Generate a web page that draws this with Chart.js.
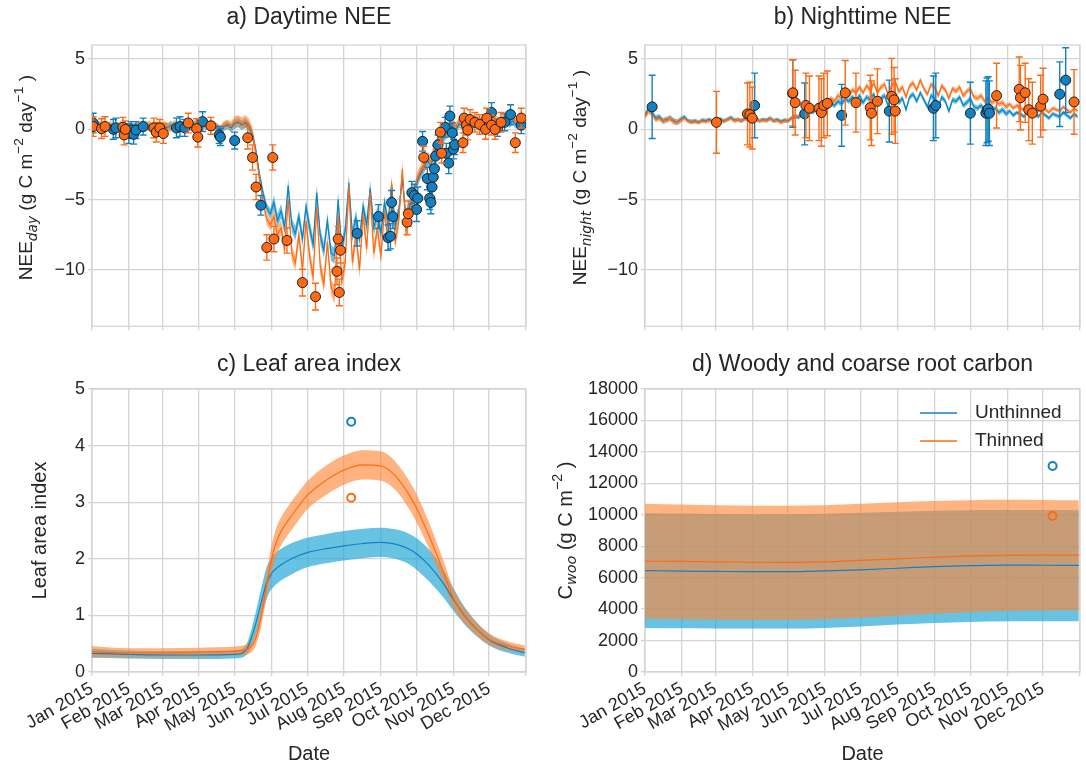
<!DOCTYPE html>
<html>
<head>
<meta charset="utf-8">
<script src="https://cdn.jsdelivr.net/npm/chart.js@4.4.1/dist/chart.umd.min.js"></script>
<style>
  body { margin: 0; background: #fff; width: 1086px; height: 767px; position: relative; overflow: hidden; }
  .panel { position: absolute; }
</style>
</head>
<body>
<div class="panel" style="left:0;top:0;width:543px;height:340px"><canvas id="chartA"></canvas></div>
<div class="panel" style="left:543px;top:0;width:543px;height:340px"><canvas id="chartB"></canvas></div>
<div class="panel" style="left:0;top:340px;width:543px;height:427px"><canvas id="chartC"></canvas></div>
<div class="panel" style="left:543px;top:340px;width:543px;height:427px"><canvas id="chartD"></canvas></div>
<script>
// x axis: day of year 2015, ticks at month starts
const monthDays = [0, 31, 59, 90, 120, 151, 181, 212, 243, 273, 304, 334, 365];
const monthLabels = ['Jan 2015', 'Feb 2015', 'Mar 2015', 'Apr 2015', 'May 2015', 'Jun 2015',
  'Jul 2015', 'Aug 2015', 'Sep 2015', 'Oct 2015', 'Nov 2015', 'Dec 2015'];

// model output, every third day
const modelDays = Array.from({ length: 122 }, (_, i) => i * 3);

// a) daytime NEE (g C m-2 day-1)
const neeDayUnth = [
  0.4, 0.2, 0.3, 0.1, 0.25, 0.15, 0.1, 0.2, 0.05, 0.15,
  0.1, 0.0, 0.15, 0.2, 0.1, 0.3, 0.15, 0.2, 0.05, 0.25,
  0.2, 0.1, 0.3, 0.15, 0.25, 0.2, 0.35, 0.3, 0.15, 0.4,
  0.3, 0.45, 0.25, 0.35, 0.2, 0.1, -0.1, 0.2, 0.3, 0.1,
  0.4, 0.5, 0.3, 0.45, 0.2, -0.4, -1.6, -3.3, -4.6, -5.6,
  -6.0, -5.2, -6.5, -5.8, -7.0, -4.0, -6.8, -7.4, -6.2, -7.8,
  -5.5, -7.0, -8.2, -4.5, -7.6, -8.6, -6.5, -8.8, -9.0, -5.0,
  -8.5, -7.2, -3.8, -7.5, -6.3, -7.8, -5.5, -6.8, -4.2, -7.0,
  -6.0, -7.4, -5.2, -6.6, -4.0, -6.9, -5.8, -3.5, -6.2, -5.5,
  -4.8, -3.8, -3.2, -2.8, -2.2, -2.6, -1.6, -1.2, -0.8, -0.4,
  -0.1, 0.2, 0.0, 0.4, 0.3, 0.5, 0.2, 0.4, 0.6, 0.3,
  0.5, 0.7, 0.4, 0.6, 0.3, 0.5, 0.8, 0.4, 0.6, 0.3,
  0.7, 0.5];
const neeDayThin = [
  0.3, 0.4, 0.2, 0.3, 0.1, 0.3, 0.2, 0.1, 0.3, 0.0,
  0.2, 0.15, 0.05, 0.3, 0.2, 0.1, 0.35, 0.1, 0.25, 0.15,
  0.3, 0.2, 0.1, 0.35, 0.2, 0.3, 0.15, 0.4, 0.25, 0.3,
  0.5, 0.3, 0.4, 0.2, 0.35, 0.15, 0.0, 0.3, 0.4, 0.25,
  0.55, 0.6, 0.45, 0.6, 0.35, -0.3, -1.8, -3.6, -5.2, -6.4,
  -6.8, -6.2, -7.5, -7.0, -8.5, -5.0, -8.8, -9.5, -7.5, -10.0,
  -6.5, -9.0, -10.5, -5.5, -9.8, -11.0, -8.0, -11.2, -11.8, -6.0,
  -10.8, -9.5, -4.0, -9.5, -7.5, -10.0, -6.0, -8.5, -4.5, -8.8,
  -7.0, -9.0, -5.8, -8.0, -3.8, -8.0, -6.5, -2.8, -7.2, -6.0,
  -5.2, -3.6, -3.0, -2.5, -2.0, -2.3, -1.3, -0.9, -0.5, -0.2,
  0.1, 0.4, 0.2, 0.6, 0.4, 0.7, 0.4, 0.6, 0.8, 0.5,
  0.7, 0.9, 0.6, 0.8, 0.5, 0.7, 1.0, 0.6, 0.8, 0.5,
  0.9, 0.7];
// half width of the model spread, per month
const neeDayUnthSd = [0.3, 0.3, 0.3, 0.3, 0.35, 0.5, 0.55, 0.55, 0.5, 0.4, 0.3, 0.3];
const neeDayThinSd = [0.3, 0.3, 0.3, 0.3, 0.4, 0.55, 0.6, 0.6, 0.55, 0.45, 0.3, 0.3];

// a) observations
const obsDayUnthDays = [1, 18, 20, 31, 33, 35, 37, 43, 71, 74, 78, 93, 107, 108, 120, 142,
  223, 241, 249, 251, 252, 253, 269, 271, 273, 274, 278, 282, 284, 285, 286, 287, 288, 289, 291,
  297, 298, 300, 301, 303, 304, 305, 336, 341, 347, 352, 361];
const obsDayUnthVals = [0.45, 0.0, 0.1, -0.3, -0.05, -0.35, -0.05, 0.2, 0.1, 0.2, 0.1, 0.55, -0.4, -0.55, -0.8, -5.4,
  -7.4, -6.2, -7.7, -7.6, -5.2, -6.2, -4.5, -4.7, -5.7, -4.9, -0.85, -3.5, -4.9, -5.2, -4.1, -3.4, -2.8, -1.9, -1.1,
  0.15, -1.7, -2.4, 0.95, -0.25, -1.4, -1.1, 1.2, 0.1, 0.5, 1.05, 0.3];
const obsDayUnthErr = [0.7, 0.7, 0.7, 0.7, 0.6, 0.7, 0.6, 0.6, 0.7, 0.7, 0.6, 0.7, 0.6, 0.6, 0.6, 0.7,
  0.9, 0.85, 0.9, 0.9, 0.85, 0.85, 0.8, 0.8, 0.85, 0.8, 0.7, 0.8, 0.8, 0.8, 0.8, 0.8, 0.75, 0.75, 0.7,
  0.7, 0.7, 0.75, 0.7, 0.7, 0.7, 0.7, 0.7, 0.6, 0.6, 0.7, 0.6];
const obsDayThinDays = [1, 8, 11, 26, 27, 28, 52, 54, 57, 60, 81, 88, 89, 100, 131, 135, 138, 147,
  152, 153, 164, 177, 188, 206, 207, 208, 209, 265, 266, 279, 293, 294, 312, 313, 315, 316, 318,
  322, 326, 331, 332, 336, 339, 344, 356, 361];
const obsDayThinVals = [0.2, 0.05, 0.2, 0.15, -0.4, 0.0, 0.1, -0.2, 0.1, -0.3, 0.45, 0.05, -0.55, 0.25, -0.6, -2.0, -4.1, -8.4,
  -2.0, -7.8, -7.9, -10.9, -11.9, -10.1, -7.8, -11.6, -8.6, -6.6, -6.0, -2.0, -0.2, -1.7, -0.95, 0.8, 0.3, -0.05, 0.7,
  0.5, 0.35, 0.0, 0.8, 0.3, 0.0, 0.5, -0.95, 0.8];
const obsDayThinErr = [0.7, 0.7, 0.7, 0.7, 0.7, 0.6, 0.7, 0.7, 0.6, 0.7, 0.7, 0.7, 0.7, 0.6, 0.8, 0.9, 0.9, 0.9,
  0.9, 0.9, 0.9, 0.95, 0.95, 0.95, 0.9, 0.95, 0.9, 0.9, 0.9, 0.8, 0.7, 0.7, 0.7, 0.7, 0.7, 0.7, 0.7,
  0.7, 0.7, 0.7, 0.7, 0.7, 0.7, 0.7, 0.7, 0.7];

// b) nighttime NEE
const neeNightUnth = [
  1.0, 1.5, 1.2, 0.8, 0.9, 0.6, 0.7, 0.8, 0.6, 0.5,
  0.7, 0.9, 0.6, 0.55, 0.6, 0.5, 0.65, 0.6, 0.7, 0.55,
  0.6, 0.75, 0.6, 0.7, 0.85, 0.65, 0.7, 0.6, 0.8, 0.7,
  0.65, 0.75, 0.6, 0.7, 0.65, 0.8, 0.6, 0.7, 0.55, 0.65,
  0.6, 0.8, 0.9, 0.85, 1.1, 1.0, 1.3, 1.2, 1.5, 1.4,
  1.7, 1.5, 1.9, 1.7, 2.0, 1.8, 2.2, 2.0, 2.3, 2.0,
  2.4, 1.9, 2.3, 2.1, 2.5, 1.8, 2.2, 2.4, 1.7, 2.3,
  2.6, 1.9, 2.2, 1.4, 2.3, 2.5, 2.0, 2.6, 2.1, 1.6,
  2.4, 2.2, 1.5, 2.3, 2.0, 1.3, 2.1, 2.0, 2.3, 1.7,
  1.9, 2.2, 1.6, 1.5, 1.7, 1.4, 1.6, 1.3, 1.5, 1.2,
  1.4, 1.1, 1.3, 1.0, 1.2, 1.1, 0.9, 1.2, 1.0, 1.1,
  0.9, 1.2, 1.0, 0.8, 1.1, 1.0, 0.9, 1.2, 1.0, 0.8,
  1.1, 0.9];
const neeNightThin = [
  0.9, 1.3, 1.1, 0.7, 0.8, 0.6, 0.65, 0.8, 0.55, 0.5,
  0.65, 0.8, 0.6, 0.5, 0.55, 0.5, 0.6, 0.55, 0.65, 0.5,
  0.6, 0.7, 0.55, 0.7, 0.8, 0.6, 0.7, 0.6, 0.75, 0.7,
  0.6, 0.7, 0.6, 0.65, 0.6, 0.75, 0.6, 0.65, 0.5, 0.6,
  0.6, 0.8, 0.95, 0.9, 1.2, 1.1, 1.4, 1.3, 1.7, 1.6,
  1.9, 1.8, 2.2, 2.0, 2.4, 2.2, 2.6, 2.4, 2.8, 2.6,
  3.0, 2.6, 3.1, 2.8, 3.3, 2.6, 3.0, 3.2, 2.5, 3.1,
  3.4, 2.7, 3.0, 2.3, 3.1, 3.3, 2.8, 3.5, 2.9, 2.5,
  3.2, 3.0, 2.4, 3.1, 2.8, 2.2, 2.9, 2.7, 3.0, 2.4,
  2.7, 2.9, 2.3, 2.2, 2.4, 2.0, 2.2, 1.9, 2.1, 1.8,
  1.9, 1.6, 1.8, 1.5, 1.7, 1.5, 1.4, 1.6, 1.4, 1.5,
  1.3, 1.6, 1.4, 1.2, 1.5, 1.4, 1.3, 1.6, 1.4, 1.2,
  1.5, 1.3];
const neeNightUnthSd = [0.2, 0.15, 0.15, 0.15, 0.15, 0.2, 0.2, 0.2, 0.2, 0.2, 0.15, 0.15];
const neeNightThinSd = [0.2, 0.15, 0.15, 0.15, 0.15, 0.2, 0.2, 0.2, 0.2, 0.2, 0.15, 0.15];

const obsNightUnthDays = [6, 92, 124, 134, 165, 205, 242, 244, 273, 286, 287, 288, 289, 348, 353];
const obsNightUnthVals = [1.6, 1.7, 2.55, 1.1, 1.0, 1.3, 1.5, 1.7, 1.15, 1.15, 1.35, 1.45, 1.15, 2.5, 3.5];
const obsNightUnthErr = [2.25, 2.3, 2.4, 2.2, 2.2, 2.2, 2.3, 2.3, 2.2, 2.3, 2.3, 2.3, 2.3, 2.3, 2.3];
const obsNightThinDays = [60, 86, 88, 90, 124, 126, 135, 138, 146, 148, 150, 153, 168, 177, 189, 190, 195,
  207, 209, 210, 295, 314, 315, 319, 322, 325, 332, 334, 360];
const obsNightThinVals = [0.5, 1.1, 1.05, 0.8, 2.6, 1.9, 1.7, 1.5, 1.5, 1.2, 1.7, 1.85, 2.6, 1.9, 1.55, 1.15, 2.0,
  2.35, 2.1, 1.3, 2.4, 2.85, 2.25, 2.6, 1.4, 1.15, 1.65, 2.15, 1.95];
const obsNightThinErr = [2.2, 2.2, 2.3, 2.2, 2.35, 2.3, 2.3, 2.3, 2.3, 2.4, 2.3, 2.3, 2.3, 2.1, 2.3, 2.3, 2.3,
  2.7, 2.3, 2.3, 2.3, 2.3, 2.3, 2.1, 2.2, 2.2, 2.2, 2.2, 2.3];

// c) leaf area index
const laiDays = [0, 30, 60, 90, 120, 130, 137, 142, 147, 151, 155, 160, 165, 172, 181, 197, 212,
  228, 243, 255, 267, 274, 284, 295, 304, 315, 334, 350, 364];
const laiUnth = [0.33, 0.31, 0.30, 0.30, 0.31, 0.40, 0.80, 1.20, 1.58, 1.74, 1.83, 1.91, 1.97, 2.04, 2.11, 2.18, 2.23,
  2.27, 2.29, 2.26, 2.17, 2.07, 1.87, 1.58, 1.28, 0.95, 0.57, 0.42, 0.34];
const laiThin = [0.36, 0.34, 0.34, 0.35, 0.37, 0.40, 0.55, 0.95, 1.55, 1.98, 2.30, 2.52, 2.68, 2.88, 3.12, 3.39, 3.57,
  3.66, 3.64, 3.47, 3.12, 2.85, 2.38, 1.80, 1.30, 0.95, 0.58, 0.46, 0.40];
const laiUnthSd = [0.08, 0.07, 0.07, 0.07, 0.07, 0.1, 0.2, 0.25, 0.28, 0.28, 0.28, 0.28, 0.28, 0.27, 0.26, 0.26, 0.26,
  0.26, 0.26, 0.26, 0.27, 0.28, 0.28, 0.25, 0.2, 0.15, 0.1, 0.08, 0.07];
const laiThinSd = [0.1, 0.08, 0.08, 0.08, 0.08, 0.09, 0.12, 0.18, 0.22, 0.25, 0.25, 0.25, 0.25, 0.25, 0.25, 0.26, 0.26,
  0.26, 0.26, 0.25, 0.25, 0.25, 0.23, 0.2, 0.17, 0.13, 0.1, 0.08, 0.07];
const laiObsDay = [218];
const laiObsUnth = [4.42];
const laiObsThin = [3.08];

// d) woody and coarse root carbon (g C m-2)
const cwooDays = [0, 30, 60, 90, 120, 151, 181, 212, 243, 273, 304, 334, 364];
const cwooUnth = [6450, 6420, 6400, 6380, 6380, 6430, 6500, 6600, 6700, 6760, 6800, 6790, 6780];
const cwooUnthHi = [10100, 10080, 10050, 10030, 10030, 10060, 10130, 10200, 10260, 10290, 10300, 10300, 10290];
const cwooUnthLo = [2800, 2780, 2770, 2760, 2760, 2800, 2900, 3020, 3120, 3180, 3220, 3230, 3230];
const cwooThin = [7050, 7030, 7000, 6980, 6970, 7000, 7100, 7200, 7300, 7380, 7420, 7430, 7430];
const cwooThinHi = [10700, 10650, 10600, 10580, 10570, 10600, 10700, 10800, 10880, 10930, 10950, 10940, 10920];
const cwooThinLo = [3380, 3350, 3320, 3300, 3300, 3350, 3450, 3580, 3700, 3800, 3880, 3900, 3920];
const cwooObsDay = [342];
const cwooObsUnth = [13100];
const cwooObsThin = [9920];

const FONT = "'Liberation Sans', Arial, sans-serif";
const INK = '#262626';
const GRID = '#d4d4d4';
const BLUE = '#1380c2';
const ORANGE = '#ff6a12';
const BLUE_BAND = 'rgba(40,170,215,0.7)';
const ORANGE_BAND = 'rgba(255,135,55,0.63)';

const pts = (xs, ys) => xs.map((x, i) => ({ x: x, y: ys[i] }));
const monthOf = d => { let m = 0; monthDays.forEach((s, i) => { if (d >= s && i < 12) m = i; }); return m; };

// mean line with a shaded spread, built as lower / upper / mean datasets
// bands sit under both mean lines
function spread(xs, lo, hi, mean, color, fillColor, order, label) {
  return [
    { data: pts(xs, lo), borderWidth: 0, pointRadius: 0, fill: false, order: order + 10 },
    { data: pts(xs, hi), borderWidth: 0, pointRadius: 0, fill: '-1', backgroundColor: fillColor, order: order + 10 },
    { data: pts(xs, mean), borderColor: color, borderWidth: 1.2, pointRadius: 0, fill: false, order: order, label: label }
  ];
}

function obs(xs, ys, err, color, order) {
  return { data: pts(xs, ys), err: err, errColor: color, showLine: false, pointRadius: 5,
    pointBackgroundColor: color, pointBorderColor: '#1e1e1e', pointBorderWidth: 1, order: order };
}

function ring(xs, ys, color, order) {
  return { data: pts(xs, ys), showLine: false, pointRadius: 4, pointBackgroundColor: 'rgba(255,255,255,0)',
    pointBorderColor: color, pointBorderWidth: 2, order: order };
}

// error bars under the markers
const errorBars = {
  id: 'errorBars',
  beforeDatasetDraw(chart, args) {
    const ds = chart.data.datasets[args.index];
    if (!ds.err) return;
    const ctx = chart.ctx, y = chart.scales.y, a = chart.chartArea;
    ctx.save();
    ctx.beginPath();
    ctx.rect(a.left, a.top, a.right - a.left, a.bottom - a.top);
    ctx.clip();
    ctx.strokeStyle = ds.errColor;
    ctx.lineWidth = 1.4;
    args.meta.data.forEach((p, i) => {
      const v = ds.data[i].y, e = ds.err[i];
      const y1 = y.getPixelForValue(v - e), y2 = y.getPixelForValue(v + e);
      ctx.beginPath();
      ctx.moveTo(p.x, y1); ctx.lineTo(p.x, y2);
      ctx.moveTo(p.x - 3.5, y1); ctx.lineTo(p.x + 3.5, y1);
      ctx.moveTo(p.x - 3.5, y2); ctx.lineTo(p.x + 3.5, y2);
      ctx.stroke();
    });
    ctx.restore();
  }
};

// light grey box round the plot
const frame = {
  id: 'frame',
  beforeDatasetsDraw(chart) {
    const a = chart.chartArea, ctx = chart.ctx;
    ctx.save();
    ctx.strokeStyle = GRID;
    ctx.lineWidth = 1.3;
    ctx.strokeRect(a.left, a.top, a.right - a.left, a.bottom - a.top);
    ctx.restore();
  }
};

// y axis title with sub- and superscripts
const richLabel = {
  id: 'richLabel',
  afterDraw(chart, args, opts) {
    if (!opts.parts) return;
    const ctx = chart.ctx, a = chart.chartArea, size = opts.size;
    const segs = opts.parts.map(p => {
      const s = p.sub || p.sup ? size * 0.72 : size;
      const font = (p.it ? 'italic ' : '') + s + 'px ' + (p.it ? "'DejaVu Sans'" : FONT);
      ctx.font = font;
      return { p: p, font: font, w: ctx.measureText(p.t).width };
    });
    const total = segs.reduce((s, g) => s + g.w, 0);
    ctx.save();
    ctx.translate(opts.x, (a.top + a.bottom) / 2 + (opts.dy || 0));
    ctx.rotate(-Math.PI / 2);
    ctx.fillStyle = INK;
    ctx.textBaseline = 'middle';
    let x = -total / 2;
    segs.forEach(g => {
      ctx.font = g.font;
      const dy = g.p.sub ? size * 0.32 : g.p.sup ? -size * 0.42 : 0;
      ctx.fillText(g.p.t, x, dy);
      x += g.w;
    });
    ctx.restore();
  }
};

// legend with short line samples, inside the plot
const lineLegend = {
  id: 'lineLegend',
  afterDraw(chart, args, opts) {
    if (!opts.x) return;
    const ctx = chart.ctx;
    const items = chart.data.datasets.filter(d => d.label);
    ctx.save();
    items.forEach((d, i) => {
      const y = opts.y + i * opts.gap;
      ctx.strokeStyle = d.borderColor;
      ctx.lineWidth = 1.3;
      ctx.beginPath(); ctx.moveTo(opts.x, y); ctx.lineTo(opts.x + 37, y); ctx.stroke();
      ctx.fillStyle = INK;
      ctx.font = '19px ' + FONT;
      ctx.textBaseline = 'middle';
      ctx.fillText(d.label, opts.x + 55, y);
    });
    ctx.restore();
  }
};

function makePanel(id, c) {
  return new Chart(document.getElementById(id), {
    type: 'line',
    data: { datasets: c.datasets },
    plugins: [frame, errorBars, richLabel, lineLegend],
    options: {
      responsive: true,
      maintainAspectRatio: false,
      animation: false,
      layout: { padding: { left: 0, right: c.padRight, top: 0, bottom: 0 } },
      plugins: {
        legend: { display: false },
        tooltip: { enabled: false },
        title: { display: true, fullSize: false, text: c.title, color: INK,
          font: { family: FONT, size: 23, weight: 'normal' },
          padding: { top: c.titleTop, bottom: c.titleBottom } },
        richLabel: c.yLabel,
        lineLegend: c.legend || {}
      },
      scales: {
        x: {
          type: 'linear', min: 0, max: 365,
          afterBuildTicks: s => { s.ticks = monthDays.map(v => ({ value: v })); },
          afterFit: s => { s.height = c.xHeight; s.paddingLeft = 0; s.paddingRight = 0; },
          grid: { color: GRID, lineWidth: 1.3, tickLength: 4 },
          border: { display: false },
          ticks: { display: c.showX, autoSkip: false, minRotation: 30, maxRotation: 30, padding: 2,
            color: INK, font: { family: FONT, size: 18 }, callback: (v, i) => monthLabels[i] || '' },
          title: { display: c.showX, text: 'Date', color: INK, font: { family: FONT, size: 20 },
            padding: { top: 0, bottom: 1 } }
        },
        y: {
          min: c.yMin, max: c.yMax,
          afterBuildTicks: s => { s.ticks = c.yTicks.map(v => ({ value: v })); },
          afterFit: s => { s.width = c.yWidth; },
          grid: { color: GRID, lineWidth: 1.3, tickLength: 4 },
          border: { display: false },
          ticks: { color: INK, font: { family: FONT, size: 18 }, padding: 3,
            callback: v => String(v).replace('-', '\u2212') }
        }
      }
    }
  });
}

const lo = (m, sd) => m.map((v, i) => v - sd[monthOf(modelDays[i])]);
const hi = (m, sd) => m.map((v, i) => v + sd[monthOf(modelDays[i])]);
const loD = (m, sd) => m.map((v, i) => v - sd[i]);
const hiD = (m, sd) => m.map((v, i) => v + sd[i]);
const smooth = d => Object.assign(d, { cubicInterpolationMode: 'monotone' });

makePanel('chartA', {
  title: 'a) Daytime NEE', titleTop: 3.7, titleBottom: 13.7, padRight: 17, yWidth: 92, xHeight: 12,
  showX: false, yMin: -14, yMax: 6, yTicks: [-10, -5, 0, 5],
  yLabel: { x: 27, dy: -8, size: 19, parts: [{ t: 'NEE' }, { t: 'day', sub: true, it: true },
    { t: ' (g C m' }, { t: '\u22122', sup: true }, { t: ' day' }, { t: '\u22121', sup: true }, { t: ' )' }] },
  datasets: [
    ...spread(modelDays, lo(neeDayUnth, neeDayUnthSd), hi(neeDayUnth, neeDayUnthSd), neeDayUnth, BLUE, BLUE_BAND, 8),
    ...spread(modelDays, lo(neeDayThin, neeDayThinSd), hi(neeDayThin, neeDayThinSd), neeDayThin, ORANGE, ORANGE_BAND, 7),
    obs(obsDayUnthDays, obsDayUnthVals, obsDayUnthErr, BLUE, 4),
    obs(obsDayThinDays, obsDayThinVals, obsDayThinErr, ORANGE, 3)
  ]
});

makePanel('chartB', {
  title: 'b) Nighttime NEE', titleTop: 3.7, titleBottom: 13.7, padRight: 5, yWidth: 102, xHeight: 12,
  showX: false, yMin: -14, yMax: 6, yTicks: [-10, -5, 0, 5],
  yLabel: { x: 38, dy: -8, size: 19, parts: [{ t: 'NEE' }, { t: 'night', sub: true, it: true },
    { t: ' (g C m' }, { t: '\u22122', sup: true }, { t: ' day' }, { t: '\u22121', sup: true }, { t: ' )' }] },
  datasets: [
    ...spread(modelDays, lo(neeNightUnth, neeNightUnthSd), hi(neeNightUnth, neeNightUnthSd), neeNightUnth, BLUE, BLUE_BAND, 8),
    ...spread(modelDays, lo(neeNightThin, neeNightThinSd), hi(neeNightThin, neeNightThinSd), neeNightThin, ORANGE, ORANGE_BAND, 7),
    obs(obsNightUnthDays, obsNightUnthVals, obsNightUnthErr, BLUE, 4),
    obs(obsNightThinDays, obsNightThinVals, obsNightThinErr, ORANGE, 3)
  ]
});

makePanel('chartC', {
  title: 'c) Leaf area index', titleTop: 11.2, titleBottom: 10.2, padRight: 17, yWidth: 92, xHeight: 95,
  showX: true, yMin: 0, yMax: 5, yTicks: [0, 1, 2, 3, 4, 5],
  yLabel: { x: 40, dy: 0, size: 20, parts: [{ t: 'Leaf area index' }] },
  datasets: [
    ...spread(laiDays, loD(laiUnth, laiUnthSd), hiD(laiUnth, laiUnthSd), laiUnth, BLUE, BLUE_BAND, 8),
    ...spread(laiDays, loD(laiThin, laiThinSd), hiD(laiThin, laiThinSd), laiThin, ORANGE, ORANGE_BAND, 7)
  ].map(smooth).concat([
    ring(laiObsDay, laiObsUnth, BLUE, 2),
    ring(laiObsDay, laiObsThin, ORANGE, 1)
  ])
});

makePanel('chartD', {
  title: 'd) Woody and coarse root carbon', titleTop: 11.2, titleBottom: 10.2, padRight: 5, yWidth: 102, xHeight: 95,
  showX: true, yMin: 0, yMax: 18000, yTicks: [0, 2000, 4000, 6000, 8000, 10000, 12000, 14000, 16000, 18000],
  yLabel: { x: 23, dy: 0, size: 20, parts: [{ t: 'C' }, { t: 'woo', sub: true, it: true }, { t: ' (g C m' },
    { t: '\u22122', sup: true }, { t: ' )' }] },
  legend: { x: 377, y: 73, gap: 28 },
  datasets: [
    ...spread(cwooDays, cwooUnthLo, cwooUnthHi, cwooUnth, BLUE, BLUE_BAND, 8, 'Unthinned'),
    ...spread(cwooDays, cwooThinLo, cwooThinHi, cwooThin, ORANGE, ORANGE_BAND, 7, 'Thinned')
  ].map(smooth).concat([
    ring(cwooObsDay, cwooObsUnth, BLUE, 2),
    ring(cwooObsDay, cwooObsThin, ORANGE, 1)
  ])
});
</script>
</body>
</html>
